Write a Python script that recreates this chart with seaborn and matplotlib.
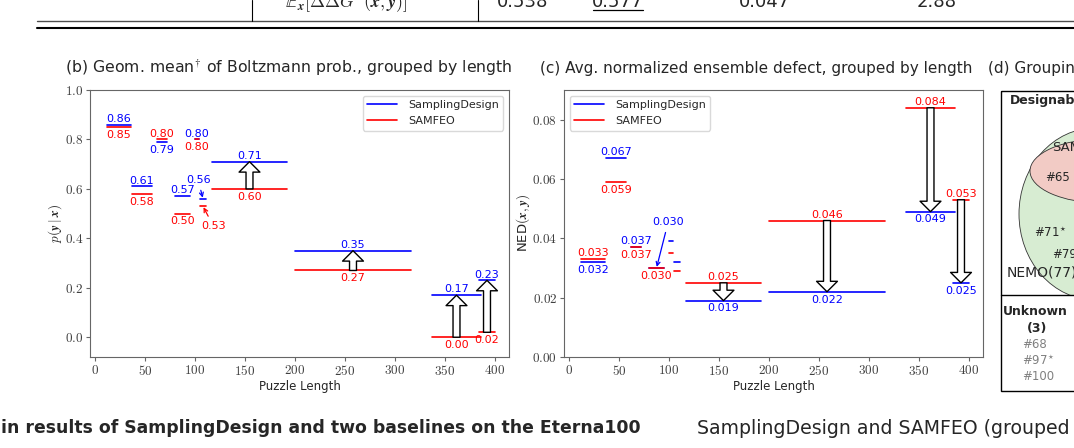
import numpy as np
import pandas as pd
import matplotlib
matplotlib.use("Agg")
import matplotlib.pyplot as plt
import seaborn as sns
from matplotlib.lines import Line2D
from matplotlib.patches import Ellipse, Rectangle
from matplotlib.ticker import FuncFormatter, FixedLocator

# ---------------- data ----------------
methods = ["SamplingDesign", "SAMFEO"]
group_start = [12, 37, 62, 80, 100, 105, 117, 200, 337, 384]
group_end = [36, 57, 72, 95, 104, 111, 192, 316, 386, 400]

prob_sd = [0.86, 0.61, 0.79, 0.57, 0.80, 0.56, 0.71, 0.35, 0.17, 0.23]
prob_samfeo = [0.85, 0.58, 0.80, 0.50, 0.80, 0.53, 0.60, 0.27, 0.00, 0.02]

ned_sd = [0.032, 0.067, 0.037, 0.030, 0.039, 0.032, 0.019, 0.022, 0.049, 0.025]
ned_samfeo = [0.033, 0.059, 0.037, 0.030, 0.035, 0.029, 0.025, 0.046, 0.084, 0.053]

x_ticks = [0, 50, 100, 150, 200, 250, 300, 350, 400]
prob_ticks = [0.0, 0.2, 0.4, 0.6, 0.8, 1.0]
ned_ticks = [0.00, 0.02, 0.04, 0.06, 0.08]

table_metric = r"$\mathbb{E}_{\boldsymbol{x}}[\Delta\Delta G^{\circ}(\boldsymbol{x}, \boldsymbol{y})]$"
table_values = ["0.538", "0.577", "0.047", "2.88"]

# ---------------- style ----------------
sns.set_theme(style="white")
plt.rcParams["font.family"] = ["DejaVu Sans"]
plt.rcParams["mathtext.fontset"] = "cm"
plt.rcParams["axes.edgecolor"] = "0.4"
plt.rcParams["axes.linewidth"] = 0.8

palette = {"SamplingDesign": "blue", "SAMFEO": "red"}
W, H = 1074, 448
fig = plt.figure(figsize=(W / 100, H / 100), dpi=100)


def fx(px):
    return px / W


def fy(py):
    return 1 - py / H


def seg_df(sd, sf):
    rows = []
    for g, (s, e) in enumerate(zip(group_start, group_end)):
        for m, vals in (("SamplingDesign", sd), ("SAMFEO", sf)):
            rows.append(dict(group=g, method=m, length=s, value=vals[g]))
            rows.append(dict(group=g, method=m, length=e, value=vals[g]))
    return pd.DataFrame(rows)


def style_axes(ax, yticks, yfmt):
    ax.set_xlim(-5, 414)
    ax.xaxis.set_major_locator(FixedLocator(x_ticks))
    ax.yaxis.set_major_locator(FixedLocator(yticks))
    ax.xaxis.set_major_formatter(FuncFormatter(lambda v, p: f"${v:.0f}$"))
    ax.yaxis.set_major_formatter(FuncFormatter(lambda v, p: "$" + format(v, yfmt) + "$"))
    ax.tick_params(axis="both", which="major", direction="out", length=2.8, width=0.8,
                   color="0.4", labelsize=9.5, labelcolor="0.25", pad=2,
                   bottom=True, left=True)
    for sp in ax.spines.values():
        sp.set_visible(True)
        sp.set_color("0.4")
        sp.set_linewidth(0.8)
    ax.set_xlabel("Puzzle Length", fontsize=8.5, labelpad=1.5)


def put_label(ax, x, y, txt, color, where):
    if where == "above":
        ax.annotate(txt, (x, y), xytext=(0, 0.6), textcoords="offset points",
                    ha="center", va="bottom", color=color, fontsize=8)
    else:
        ax.annotate(txt, (x, y), xytext=(0, -2.0), textcoords="offset points",
                    ha="center", va="top", color=color, fontsize=8)


def big_arrow(ax, x, y0, y1):
    ax.annotate("", xy=(x, y1), xytext=(x, y0),
                arrowprops=dict(arrowstyle="simple,head_width=1.5,head_length=0.75,tail_width=0.5",
                                mutation_scale=10, fc="white", ec="black", lw=1.0,
                                shrinkA=0, shrinkB=0), zorder=5)


def draw_panel(ax, sd, sf, fmt, skip, special, arrows_from):
    df = seg_df(sd, sf)
    sns.lineplot(data=df, x="length", y="value", hue="method", units="group",
                 estimator=None, sort=False, palette=palette, hue_order=methods,
                 legend=False, ax=ax, lw=1.2)
    mids = [(s + e) / 2 for s, e in zip(group_start, group_end)]
    for g in range(len(mids)):
        if g in skip:
            continue
        a, b = sd[g], sf[g]
        sd_where = "above" if a >= b else "below"
        sf_where = "below" if a >= b else "above"
        if ("sd", g) not in special:
            put_label(ax, mids[g], a, format(a, fmt), "blue", sd_where)
        if ("sf", g) not in special:
            put_label(ax, mids[g], b, format(b, fmt), "red", sf_where)
    for (who, g), off in special.items():
        val = sd[g] if who == "sd" else sf[g]
        col = "blue" if who == "sd" else "red"
        ax.annotate(format(val, fmt), xy=(mids[g], val), xytext=off, textcoords="offset points",
                    ha="center", va="center", color=col, fontsize=8,
                    arrowprops=dict(arrowstyle="->", color=col, lw=0.9,
                                    shrinkA=1.5, shrinkB=0.8, mutation_scale=7))
    for g in arrows_from:
        big_arrow(ax, mids[g], sf[g], sd[g])
    handles = [Line2D([], [], color=palette[m], lw=1.2) for m in methods]
    return handles


# ---------------- panel (b) ----------------
axb = fig.add_axes([fx(90), fy(357), fx(509) - fx(90), (357 - 90) / H])
hb = draw_panel(axb, prob_sd, prob_samfeo, ".2f", skip=[],
                special={("sd", 5): (-3.5, 13.5), ("sf", 5): (7.5, -14.5)},
                arrows_from=[6, 7, 8, 9])
style_axes(axb, prob_ticks, ".1f")
axb.set_ylim(-0.08, 1.0)
axb.set_ylabel(r"$p(\boldsymbol{y} \mid \boldsymbol{x})$", fontsize=9.5)
axb.yaxis.set_label_coords(-0.062, 0.5)
axb.legend(hb, methods, loc="upper right", fontsize=8, handlelength=2.7,
           frameon=True, edgecolor="0.85", framealpha=1, borderaxespad=0.5,
           labelspacing=0.55, handletextpad=1.0)

# ---------------- panel (c) ----------------
axc = fig.add_axes([fx(564), fy(357), fx(983) - fx(564), (357 - 90) / H])
hc = draw_panel(axc, ned_sd, ned_samfeo, ".3f", skip=[4, 5],
                special={("sd", 3): (8.4, 33)},
                arrows_from=[6, 7, 8, 9])
style_axes(axc, ned_ticks, ".2f")
axc.set_ylim(0, 0.09)
axc.set_ylabel(r"NED$(\boldsymbol{x}, \boldsymbol{y})$", fontsize=9.5)
axc.yaxis.set_label_coords(-0.076, 0.5)
axc.legend(hc, methods, loc="upper left", fontsize=8, handlelength=2.7,
           frameon=True, edgecolor="0.85", framealpha=1, borderaxespad=0.5,
           labelspacing=0.55, handletextpad=1.0)

# ---------------- panel titles ----------------
fig.text(fx(65), fy(68), "(b) Geom. mean$^{\\dagger}$ of Boltzmann prob., grouped by length",
         fontsize=11.35, va="center", ha="left")
fig.text(fx(540), fy(68), "(c) Avg. normalized ensemble defect, grouped by length",
         fontsize=11, va="center", ha="left")
fig.text(fx(988), fy(68), "(d) Grouping of puzzles", fontsize=11, va="center", ha="left")

# ---------------- table fragment at top ----------------
fig.add_artist(Line2D([fx(37), 1.0], [fy(21), fy(21)], color="0.3", lw=1.0))
fig.add_artist(Line2D([fx(37), 1.0], [fy(28), fy(28)], color="black", lw=1.5))
for xv in (252, 478):
    fig.add_artist(Line2D([fx(xv), fx(xv)], [fy(21), 1.0], color="black", lw=0.8))
fig.text(fx(346), fy(7), table_metric, fontsize=13, ha="center", va="baseline")
for xc, t in zip([523, 618, 764, 937], table_values):
    fig.text(fx(xc), fy(7), t, fontsize=13, ha="center", va="baseline")
fig.add_artist(Line2D([fx(593), fx(643)], [fy(10.5), fy(10.5)], color="black", lw=0.9))

# ---------------- panel (d) fragment ----------------
axd = fig.add_axes([fx(1001), fy(391), 200 / W, 300 / H])
axd.set_xlim(1001, 1201)
axd.set_ylim(391, 91)
axd.axis("off")
clip = Rectangle((1001, 91), 200, 204, transform=axd.transData, fill=False, lw=0)
axd.add_patch(clip)
green = Ellipse((1095, 214), 152, 172, fc="#d7ecd2", ec="0.2", lw=0.6)
axd.add_patch(green)
green.set_clip_path(clip)
pink = Ellipse((1102, 171), 144, 64, fc="#f2cbc5", ec="0.2", lw=0.6)
axd.add_patch(pink)
axd.add_patch(Rectangle((1001, 91), 200, 300, fill=False, ec="black", lw=1.0, clip_on=False))
axd.plot([1001, 1201], [295, 295], color="black", lw=1.0, clip_on=False)
axd.text(1010, 101, "Designable", fontsize=9, fontweight="bold", va="center", ha="left", clip_on=False)
axd.text(1052, 148, "SAMFEO", fontsize=9.5, va="center", ha="left", clip_on=False)
axd.text(1045, 178, "#65", fontsize=8.5, va="center", ha="left", clip_on=False)
axd.text(1034, 233, r"#71$^{\star}$", fontsize=8.5, va="center", ha="left", clip_on=False)
axd.text(1052, 255, "#79", fontsize=8.5, va="center", ha="left", clip_on=False)
axd.text(1007, 273, "NEMO(77)", fontsize=10, va="center", ha="left", clip_on=False)
axd.text(1003, 312, "Unknown", fontsize=9, fontweight="bold", va="center", ha="left", clip_on=False)
axd.text(1037, 329, "(3)", fontsize=9, fontweight="bold", va="center", ha="center", clip_on=False)
axd.text(1022, 345, "#68", fontsize=8.5, color="0.5", va="center", ha="left", clip_on=False)
axd.text(1022, 361, r"#97$^{\star}$", fontsize=8.5, color="0.5", va="center", ha="left", clip_on=False)
axd.text(1022, 377, "#100", fontsize=8.5, color="0.5", va="center", ha="left", clip_on=False)

# ---------------- captions at bottom ----------------
fig.text(fx(1), fy(428), "in results of SamplingDesign and two baselines on the Eterna100",
         fontsize=12.4, fontweight="bold", ha="left", va="center")
fig.text(fx(697), fy(428), "SamplingDesign and SAMFEO (grouped by length)",
         fontsize=13.6, ha="left", va="center")

fig.savefig("out.png", dpi=100)
